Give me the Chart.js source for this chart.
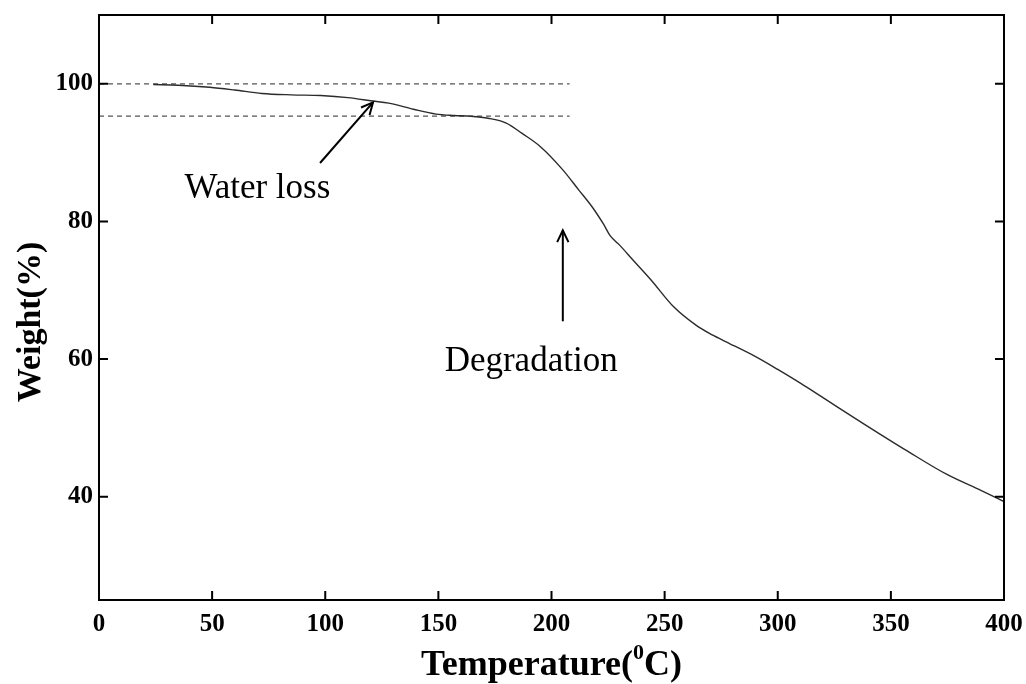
<!DOCTYPE html>
<html>
<head>
<meta charset="utf-8">
<script src="https://cdn.jsdelivr.net/npm/chart.js@4.4.1/dist/chart.umd.min.js"></script>
<style>
  html, body { margin: 0; padding: 0; background: #fff; }
  #wrap { width: 1026px; height: 684px; }
</style>
</head>
<body>
<div id="wrap"><canvas id="tga"></canvas></div>
<script>
// TGA curve: temperature (°C) vs residual weight (%)
const temperature = [24, 35, 49, 60, 72, 85, 98, 110, 121, 128, 139, 149, 157, 164, 172, 180, 187, 195,
                     205, 212, 218, 223, 226, 230, 236, 244, 254, 264, 270, 276, 290, 300, 310, 320, 338, 357, 375, 390, 400];
const weight      = [99.9, 99.8, 99.5, 99.1, 98.6, 98.4, 98.3, 98.0, 97.5, 97.2, 96.3, 95.6, 95.4, 95.3, 95.0, 94.3, 92.8, 90.9,
                     87.5, 84.6, 82.1, 79.6, 77.9, 76.6, 74.4, 71.5, 67.6, 64.9, 63.7, 62.7, 60.4, 58.5, 56.5, 54.4, 50.6, 46.7, 43.2, 40.9, 39.3];

// reference levels (dashed) before / after water loss
const levelX     = [0, 208];
const levelStart = 100;
const levelWater = 95.3;

// axis ticks
const xTicks = [0, 50, 100, 150, 200, 250, 300, 350, 400];
const yTicks = [40, 60, 80, 100];

// annotations: text position and arrow [tail, tip] in data units
const notes = [
  { text: 'Water loss',  at: [70, 84.8],  arrow: [[97.7, 88.5], [121.1, 97.3]] },
  { text: 'Degradation', at: [191, 59.6], arrow: [[205, 65.5], [205, 78.7]] }
];

const SERIF = '"Liberation Serif", "Times New Roman", serif';

const curve = temperature.map((t, i) => ({ x: t, y: weight[i] }));
const line0 = levelX.map(x => ({ x, y: levelStart }));
const line1 = levelX.map(x => ({ x, y: levelWater }));

function arrowHead(ctx, x0, y0, x1, y1, len) {
  const a = Math.atan2(y1 - y0, x1 - x0);
  ctx.beginPath();
  ctx.moveTo(x1 - len * Math.cos(a - 0.45), y1 - len * Math.sin(a - 0.45));
  ctx.lineTo(x1, y1);
  ctx.lineTo(x1 - len * Math.cos(a + 0.45), y1 - len * Math.sin(a + 0.45));
  ctx.stroke();
}

// frame, inward ticks on all four sides, notes and axis titles
const decor = {
  id: 'decor',
  afterDraw(chart) {
    const { ctx, chartArea: a, scales: { x, y } } = chart;
    ctx.save();
    ctx.strokeStyle = '#000';
    ctx.lineWidth = 2;
    ctx.strokeRect(a.left, a.top, a.right - a.left, a.bottom - a.top);

    const tl = 9;
    ctx.beginPath();
    xTicks.forEach(v => {
      const px = x.getPixelForValue(v);
      ctx.moveTo(px, a.bottom); ctx.lineTo(px, a.bottom - tl);
      ctx.moveTo(px, a.top);    ctx.lineTo(px, a.top + tl);
    });
    yTicks.forEach(v => {
      const py = y.getPixelForValue(v);
      ctx.moveTo(a.left, py);  ctx.lineTo(a.left + tl, py);
      ctx.moveTo(a.right, py); ctx.lineTo(a.right - tl, py);
    });
    ctx.stroke();

    // annotation text and arrows
    ctx.fillStyle = '#000';
    ctx.font = '35px ' + SERIF;
    ctx.textAlign = 'center';
    ctx.textBaseline = 'middle';
    ctx.lineWidth = 2;
    notes.forEach(n => {
      ctx.fillText(n.text, x.getPixelForValue(n.at[0]), y.getPixelForValue(n.at[1]));
      const [t0, t1] = n.arrow;
      const x0 = x.getPixelForValue(t0[0]), y0 = y.getPixelForValue(t0[1]);
      const x1 = x.getPixelForValue(t1[0]), y1 = y.getPixelForValue(t1[1]);
      ctx.beginPath(); ctx.moveTo(x0, y0); ctx.lineTo(x1, y1); ctx.stroke();
      arrowHead(ctx, x0, y0, x1, y1, 13);
    });

    // x title with superscript degree zero
    ctx.textBaseline = 'alphabetic';
    ctx.textAlign = 'left';
    const main = 'Temperature(', sup = '0', tail = 'C)';
    const bigFont = 'bold 36px ' + SERIF, supFont = 'bold 22px ' + SERIF;
    ctx.font = bigFont;  const w1 = ctx.measureText(main).width, w3 = ctx.measureText(tail).width;
    ctx.font = supFont;  const w2 = ctx.measureText(sup).width;
    let tx = (a.left + a.right) / 2 - (w1 + w2 + w3) / 2;
    const base = 675;
    ctx.font = bigFont; ctx.fillText(main, tx, base); tx += w1;
    ctx.font = supFont; ctx.fillText(sup, tx, base - 16); tx += w2;
    ctx.font = bigFont; ctx.fillText(tail, tx, base);

    // y title, rotated
    ctx.translate(40, 322);
    ctx.rotate(-Math.PI / 2);
    ctx.textAlign = 'center';
    ctx.font = 'bold 34px ' + SERIF;
    ctx.fillText('Weight(%)', 0, 0);
    ctx.restore();
  }
};

new Chart(document.getElementById('tga'), {
  type: 'line',
  data: {
    datasets: [
      { data: curve, borderColor: '#2b2b2b', borderWidth: 1.4, pointRadius: 0, fill: false, cubicInterpolationMode: 'monotone' },
      { data: line0, borderColor: '#555', borderWidth: 1.2, borderDash: [5, 4], pointRadius: 0, fill: false },
      { data: line1, borderColor: '#555', borderWidth: 1.2, borderDash: [5, 4], pointRadius: 0, fill: false }
    ]
  },
  options: {
    responsive: true,
    maintainAspectRatio: false,
    animation: false,
    layout: { padding: { top: 15, right: 22, left: 0, bottom: 0 } },
    plugins: { legend: { display: false }, tooltip: { enabled: false } },
    scales: {
      x: {
        type: 'linear', min: 0, max: 400,
        afterBuildTicks: s => { s.ticks = xTicks.map(v => ({ value: v })); },
        afterFit: s => { s.height = 84; s.paddingLeft = 0; s.paddingRight = 0; },
        grid: { display: false, drawTicks: false },
        border: { display: false },
        ticks: { color: '#000', padding: 10, font: { family: SERIF, size: 25, weight: 'bold' } }
      },
      y: {
        type: 'linear', min: 25, max: 110,
        afterBuildTicks: s => { s.ticks = yTicks.map(v => ({ value: v })); },
        afterFit: s => { s.width = 99; s.paddingTop = 0; s.paddingBottom = 0; },
        grid: { display: false, drawTicks: false },
        border: { display: false },
        ticks: { color: '#000', padding: 6, font: { family: SERIF, size: 25, weight: 'bold' } }
      }
    }
  },
  plugins: [decor]
});
</script>
</body>
</html>
